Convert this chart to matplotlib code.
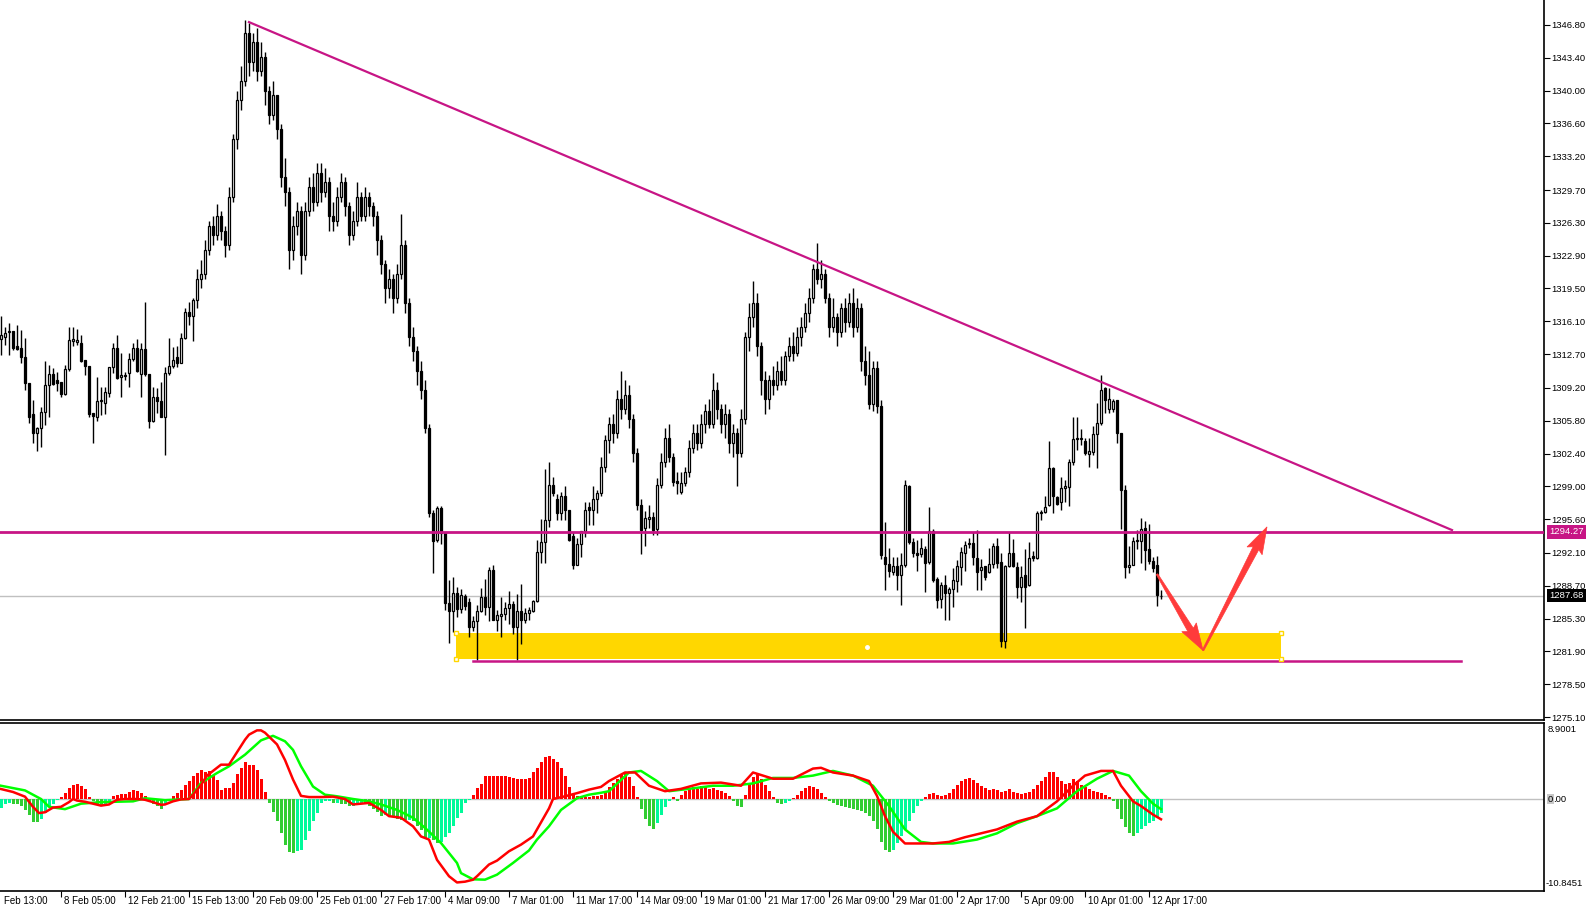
import matplotlib
matplotlib.use("Agg")
import matplotlib.pyplot as plt
from matplotlib.patches import Rectangle, Polygon
from matplotlib.transforms import blended_transform_factory
import numpy as np

plt.rcParams['font.family'] = ['Liberation Sans', 'DejaVu Sans']

# ---------------- data (XAUUSD H4) ----------------
opens = [
1314.3,1314.5,1315.0,1315.1,1313.5,1313.3,1312.4,1309.7,1306.5,1304.5,
1305.0,1306.7,1309.5,1310.6,1310.0,1309.8,1308.6,1311.2,1314.1,1314.0,
1313.9,1312.1,1311.5,1306.6,1306.2,1307.8,1307.6,1308.7,1311.4,1313.3,
1310.3,1310.5,1310.7,1312.2,1313.3,1310.6,1313.2,1310.6,1305.8,1308.3,
1307.8,1306.2,1310.7,1311.5,1312.4,1311.8,1314.4,1317.1,1316.7,1318.3,
1320.5,1321.0,1323.5,1326.0,1325.0,1327.0,1325.5,1324.0,1329.0,1335.0,
1339.0,1341.0,1346.0,1343.0,1345.0,1342.0,1343.5,1340.0,1337.5,1339.5,
1336.0,1331.0,1329.5,1323.5,1326.0,1327.5,1323.0,1327.5,1330.0,1328.5,
1331.5,1329.5,1330.5,1327.0,1326.5,1329.0,1330.5,1328.0,1325.0,1326.5,
1329.0,1327.0,1329.0,1328.0,1327.0,1324.5,1322.0,1319.5,1320.5,1318.5,
1321.0,1324.0,1318.0,1314.5,1313.0,1311.0,1309.0,1305.0,1296.2,1293.4,
1296.8,1294.2,1286.9,1286.1,1287.9,1286.3,1287.6,1287.0,1284.4,1285.0,
1286.1,1287.5,1286.5,1290.3,1285.2,1285.6,1285.8,1286.4,1286.8,1284.4,
1286.1,1285.2,1285.9,1286.1,1287.1,1292.2,1293.2,1295.5,1299.1,1297.7,
1296.2,1298.0,1296.6,1293.9,1290.9,1293.0,1294.4,1296.9,1296.6,1297.7,
1298.3,1301.0,1303.8,1305.5,1304.5,1308.0,1307.0,1308.5,1306.0,1302.5,
1297.1,1294.7,1295.6,1295.8,1294.6,1299.1,1301.5,1304.0,1302.0,1299.6,
1298.4,1299.3,1300.5,1303.0,1304.5,1303.5,1305.5,1306.8,1305.5,1309.0,
1307.0,1305.5,1306.5,1303.5,1304.5,1302.5,1306.0,1314.5,1316.5,1318.0,
1313.5,1310.0,1308.0,1310.0,1309.5,1311.0,1310.0,1312.5,1313.5,1312.8,
1314.5,1315.5,1317.0,1318.5,1321.5,1320.5,1321.0,1318.5,1315.5,1316.5,
1315.0,1317.5,1316.0,1318.0,1315.5,1317.5,1312.0,1310.5,1307.5,1311.3,
1307.3,1291.7,1291.0,1290.1,1290.7,1289.8,1290.9,1299.0,1293.2,1292.1,
1292.0,1292.5,1291.2,1294.4,1289.4,1287.3,1288.8,1288.0,1288.4,1289.2,
1290.6,1292.1,1293.0,1293.1,1291.6,1290.3,1290.7,1290.1,1291.0,1292.8,
1291.2,1283.0,1290.7,1292.1,1290.6,1288.6,1289.8,1288.8,1291.8,1291.6,
1296.2,1296.3,1297.1,1300.9,1297.9,1297.4,1298.8,1298.9,1301.5,1304.0,
1303.9,1303.7,1302.4,1302.6,1304.4,1305.6,1309.2,1307.0,1307.0,1307.9,
1304.5,1298.6,1290.6,1290.9,1293.3,1293.3,1294.7,1292.5,1291.3,1290.9,1287.6]
highs = [
1316.7,1315.5,1315.9,1315.1,1315.7,1315.2,1314.4,1309.7,1307.9,1305.1,
1307.2,1312.0,1311.6,1311.3,1310.8,1309.8,1311.6,1315.5,1315.5,1315.3,
1314.7,1312.1,1311.5,1306.6,1310.3,1309.3,1309.3,1311.4,1313.8,1314.7,
1312.8,1310.8,1312.8,1313.8,1314.3,1313.8,1318.1,1310.6,1309.3,1309.2,
1309.8,1311.4,1314.4,1313.4,1313.5,1314.9,1317.5,1318.1,1318.5,1321.5,
1322.5,1324.5,1326.5,1327.0,1328.3,1327.5,1326.0,1330.0,1335.5,1340.0,
1342.5,1347.3,1347.0,1346.0,1346.5,1345.0,1344.0,1340.5,1341.0,1339.5,
1336.5,1333.0,1330.0,1327.0,1328.5,1328.0,1328.5,1331.0,1331.5,1332.5,
1332.5,1332.0,1331.0,1328.5,1330.0,1331.5,1331.0,1328.5,1327.5,1330.5,
1329.5,1330.0,1329.5,1328.5,1327.5,1325.0,1322.5,1321.5,1321.0,1322.0,
1327.2,1324.5,1318.5,1315.5,1313.5,1312.0,1310.0,1305.5,1296.6,1297.0,
1297.0,1294.2,1289.3,1289.6,1288.6,1288.4,1287.8,1287.4,1285.6,1286.7,
1288.5,1289.4,1290.6,1290.9,1286.2,1287.5,1287.0,1288.2,1287.1,1287.8,
1288.9,1286.4,1286.5,1287.2,1293.4,1295.6,1300.8,1301.5,1300.0,1298.2,
1298.4,1299.0,1296.6,1294.3,1293.6,1294.4,1297.4,1297.4,1299.0,1298.6,
1302.0,1304.3,1306.2,1306.5,1309.0,1311.0,1310.0,1309.5,1306.5,1303.0,
1297.7,1296.4,1297.1,1296.3,1299.9,1302.5,1305.0,1305.5,1302.5,1300.5,
1300.5,1301.0,1303.8,1305.5,1305.5,1306.5,1307.5,1308.0,1310.7,1309.8,
1307.5,1307.5,1307.0,1305.5,1305.0,1307.0,1315.0,1318.0,1320.3,1319.0,
1314.0,1311.0,1310.5,1311.5,1312.0,1312.5,1313.0,1314.5,1315.0,1315.5,
1316.5,1318.0,1319.5,1322.0,1324.2,1322.5,1321.5,1319.0,1318.5,1317.0,
1318.0,1318.5,1319.0,1319.5,1318.5,1318.0,1313.5,1313.0,1312.0,1312.0,
1307.9,1295.3,1292.6,1291.7,1291.7,1292.1,1299.7,1299.1,1293.6,1293.4,
1293.6,1292.8,1296.9,1294.6,1289.6,1289.1,1289.8,1288.6,1290.5,1291.4,
1292.7,1293.3,1293.6,1294.3,1294.5,1291.5,1290.7,1292.6,1293.1,1293.6,
1292.1,1290.9,1294.3,1293.5,1291.2,1290.7,1292.5,1293.2,1292.3,1296.4,
1296.5,1298.0,1303.7,1301.0,1298.0,1300.0,1299.7,1301.8,1306.2,1306.2,
1304.9,1304.0,1304.0,1305.2,1307.6,1310.5,1309.3,1309.2,1308.1,1307.9,
1304.5,1299.1,1292.8,1293.8,1294.5,1295.7,1295.4,1295.1,1291.7,1291.8,1288.3]
lows = [
1312.6,1313.6,1312.6,1313.1,1313.1,1311.8,1309.0,1305.6,1303.5,1302.7,
1303.1,1305.4,1306.2,1309.5,1308.9,1308.3,1308.5,1311.0,1313.5,1313.6,
1311.9,1310.5,1306.2,1303.5,1305.8,1306.4,1306.5,1308.3,1310.7,1310.1,
1308.3,1310.0,1309.3,1312.0,1310.8,1308.3,1310.4,1305.0,1305.7,1306.6,
1306.2,1302.2,1310.5,1311.3,1311.4,1311.8,1314.3,1315.7,1314.1,1317.5,
1319.5,1320.5,1323.0,1324.0,1324.5,1324.5,1322.8,1323.5,1328.5,1334.0,
1338.0,1340.5,1341.5,1342.0,1341.0,1341.5,1338.5,1336.5,1337.0,1335.0,
1330.0,1328.0,1321.5,1322.5,1325.0,1321.0,1322.5,1327.0,1327.5,1328.0,
1328.5,1329.0,1325.5,1325.5,1326.0,1328.5,1327.0,1324.0,1324.5,1326.0,
1326.5,1326.5,1327.0,1326.0,1323.0,1321.0,1318.0,1318.5,1317.0,1318.0,
1320.5,1317.0,1313.5,1312.0,1309.5,1308.0,1304.5,1295.8,1290.0,1293.2,
1293.0,1286.2,1282.8,1283.9,1285.5,1285.9,1286.2,1283.4,1284.0,1281.0,
1286.0,1285.7,1285.0,1285.1,1284.0,1283.4,1285.1,1284.7,1283.7,1281.0,
1282.7,1284.8,1285.2,1286.0,1287.0,1291.1,1291.1,1294.8,1298.0,1295.5,
1295.5,1295.5,1293.3,1290.4,1290.9,1291.7,1293.8,1295.0,1295.0,1296.2,
1298.0,1300.5,1302.5,1303.5,1304.0,1306.0,1306.5,1305.0,1301.5,1296.5,
1292.0,1292.8,1294.7,1294.0,1294.0,1298.8,1301.0,1301.5,1299.0,1298.2,
1298.2,1299.0,1300.0,1302.5,1302.8,1303.0,1304.5,1305.0,1305.0,1306.0,
1304.5,1304.0,1302.5,1302.0,1299.0,1302.0,1305.5,1313.0,1315.5,1312.5,
1308.5,1306.5,1307.0,1308.5,1309.0,1309.5,1309.5,1312.0,1312.0,1312.5,
1313.5,1315.0,1316.0,1318.0,1320.0,1319.5,1318.0,1314.5,1315.0,1313.5,
1314.5,1315.0,1315.5,1314.5,1315.0,1311.0,1309.5,1307.0,1306.8,1306.6,
1291.5,1288.3,1289.6,1289.8,1288.3,1286.7,1290.6,1293.0,1291.7,1290.2,
1291.7,1288.1,1291.0,1289.1,1286.4,1286.4,1285.2,1285.2,1286.5,1288.1,
1288.8,1290.2,1292.6,1290.9,1288.3,1288.3,1289.3,1290.0,1290.5,1290.5,
1282.4,1282.3,1290.6,1290.6,1287.4,1287.0,1284.3,1288.7,1291.3,1291.5,
1295.5,1296.2,1297.0,1296.2,1297.1,1296.5,1297.4,1297.0,1301.2,1302.8,
1303.3,1302.2,1301.0,1302.2,1300.9,1305.4,1306.6,1306.6,1306.7,1303.5,
1294.6,1289.5,1290.0,1290.8,1292.5,1291.1,1290.3,1291.0,1290.1,1286.6,1287.3]
closes = [
1314.7,1314.9,1315.1,1313.3,1313.2,1312.4,1309.7,1306.2,1304.5,1305.0,
1306.7,1309.5,1310.6,1309.6,1309.7,1308.6,1311.2,1314.2,1314.3,1314.2,
1312.0,1311.5,1306.5,1306.3,1307.8,1307.9,1308.8,1311.4,1313.3,1310.2,
1310.5,1310.4,1312.2,1313.3,1311.0,1313.2,1310.6,1305.8,1308.3,1307.8,
1306.2,1310.7,1311.5,1312.1,1311.8,1314.4,1317.1,1316.7,1318.3,1320.5,
1321.0,1323.5,1326.0,1325.0,1327.0,1325.5,1324.0,1329.0,1335.0,1339.0,
1341.0,1346.0,1343.0,1345.0,1342.0,1343.5,1340.0,1337.5,1339.5,1336.0,
1331.0,1329.5,1323.5,1326.0,1327.5,1323.0,1327.5,1330.0,1328.5,1331.5,
1329.5,1330.5,1327.0,1326.5,1329.0,1330.5,1328.0,1325.0,1326.5,1329.0,
1327.0,1329.0,1328.0,1327.0,1324.5,1322.0,1319.5,1320.5,1318.5,1321.0,
1324.0,1318.0,1314.5,1313.0,1311.0,1309.0,1305.0,1296.2,1293.3,1296.8,
1294.2,1286.9,1286.1,1287.9,1286.3,1287.7,1286.6,1284.4,1285.0,1286.1,
1287.5,1286.5,1290.3,1285.2,1285.7,1285.8,1286.4,1286.8,1284.4,1286.1,
1285.2,1285.9,1286.2,1287.1,1292.2,1293.2,1295.5,1299.1,1298.3,1296.2,
1298.0,1296.6,1293.4,1290.9,1293.0,1294.4,1296.6,1296.6,1297.7,1298.3,
1301.0,1303.8,1305.5,1304.5,1308.0,1307.0,1308.5,1306.0,1302.5,1297.1,
1294.5,1295.7,1295.8,1294.5,1299.1,1301.5,1304.0,1302.0,1299.5,1299.3,
1299.3,1300.5,1303.0,1304.5,1303.5,1305.5,1306.8,1305.5,1309.0,1307.0,
1305.5,1306.5,1303.5,1304.5,1302.5,1306.0,1314.5,1316.5,1318.0,1313.5,
1310.0,1308.0,1310.0,1309.5,1311.0,1310.0,1312.5,1313.5,1312.8,1314.5,
1315.5,1317.0,1318.5,1321.5,1320.5,1321.0,1318.5,1315.5,1316.5,1315.0,
1317.5,1316.0,1318.0,1315.5,1317.5,1312.0,1310.5,1307.5,1311.3,1307.3,
1291.9,1291.0,1290.2,1290.7,1289.8,1290.9,1299.1,1293.2,1292.1,1291.9,
1292.6,1291.1,1294.4,1289.3,1287.2,1288.8,1287.9,1288.4,1289.3,1290.7,
1292.2,1292.9,1293.1,1291.7,1290.1,1290.6,1289.6,1291.0,1292.8,1291.1,
1283.0,1290.7,1292.1,1290.7,1288.6,1289.6,1288.6,1291.6,1291.6,1296.2,
1296.3,1296.9,1300.9,1298.0,1297.2,1298.8,1299.0,1301.5,1303.9,1303.9,
1304.0,1302.5,1302.7,1304.4,1305.6,1309.0,1307.9,1308.0,1307.8,1304.5,
1298.6,1290.6,1290.9,1293.3,1293.4,1294.6,1292.4,1291.3,1290.5,1287.7,1287.68]

# MACD histogram (one value per bar)
macd_hist = [
-1.15,-0.6,-0.5,-0.6,-0.7,-0.85,-1.4,-2.0,-2.9,-3.0,
-2.6,-1.8,-1.0,-0.6,-0.1,0.2,0.8,1.4,1.85,1.9,
1.7,1.3,0.25,-0.3,-0.7,-0.95,-0.85,-0.3,0.35,0.55,
0.65,0.65,0.85,1.1,1.0,0.75,0.35,-0.3,-0.6,-0.85,
-1.3,-0.6,-0.1,0.35,0.75,1.2,1.85,2.25,2.9,3.35,
3.7,3.4,3.55,3.1,2.5,1.2,1.4,1.4,2.05,3.25,
4.0,4.8,4.4,4.3,3.75,2.6,0.85,-0.5,-1.7,-2.85,
-4.35,-5.85,-6.85,-6.9,-6.7,-6.5,-5.3,-4.15,-2.85,-1.8,
-0.5,-0.3,-0.3,-0.5,-0.45,-0.6,-0.7,-0.95,-0.85,-0.6,
-0.45,-0.5,-0.85,-1.3,-1.7,-2.15,-2.0,-2.15,-2.3,-2.55,
-2.65,-2.75,-2.65,-2.85,-3.4,-3.95,-5.1,-5.0,-5.2,-5.65,
-5.55,-4.85,-4.35,-3.4,-2.45,-1.8,-0.5,-0.1,0.55,1.4,
1.95,3.0,3.0,2.9,2.9,2.9,2.9,2.8,2.75,2.6,
2.55,2.6,2.7,3.4,4.0,4.8,5.4,5.45,5.1,4.7,
4.0,3.0,1.55,0.7,0.35,0.25,0.25,0.3,0.35,0.4,
0.5,1.0,1.55,2.1,2.6,3.1,3.4,2.85,1.7,0.25,
-1.3,-2.6,-3.5,-3.9,-3.1,-2.1,-1.05,-0.25,0.25,-0.25,
0.5,1.05,1.45,1.55,1.3,1.7,1.55,1.3,1.45,1.15,
1.05,0.8,0.4,-0.25,-0.9,-1.05,0.5,2.1,2.85,3.25,
2.6,1.8,1.05,0.25,-0.5,-0.65,-0.5,-0.25,0.15,0.5,
1.05,1.45,1.7,1.55,1.3,0.8,0.25,-0.25,-0.5,-0.8,
-0.9,-1.05,-1.15,-1.3,-1.45,-1.55,-1.8,-2.2,-2.85,-3.9,
-5.45,-6.5,-6.75,-6.5,-5.7,-4.8,-3.9,-2.85,-1.8,-0.9,
-0.25,0.25,0.65,0.8,0.5,0.4,0.5,0.8,1.3,1.8,
2.35,2.6,2.75,2.45,2.1,1.7,1.45,1.15,1.3,1.15,
0.9,1.05,1.3,0.9,0.8,0.65,0.8,0.9,1.3,1.8,
2.35,2.85,3.4,3.4,2.85,2.35,1.95,2.1,2.6,2.35,
1.8,1.55,1.3,1.05,0.9,0.8,0.5,0.25,-0.25,-1.3,
-2.6,-3.65,-4.4,-4.8,-4.4,-3.9,-3.4,-3.1,-2.85,-2.35,-1.8]

# MACD main line (red): bar index, value
macd_x = [0,3,6,8,9.5,11,13,15,17,18,19,21,23,25,27,29,31,34,36,38,40,41,43,45,47,48,50,51.5,53,54,55,57,59,60,61,62,64,65,66,67,69,71,73,75,77,80,83,86,88,90,92,95,97,100,103,105,107,109,112,114,116,118,119,122,124,127,130,133,135,137,138,141,144,147,150,
152,156,158.5,162,166,170,175,180,185,188,193,198,203,205,208,213,217,219,221,223,226,230,233,237,241,245,249,251,254,259,264,268,271,275,278,280,283,285,288,290]
macd_v = [1.28,0.9,0.3,-1.0,-1.8,-1.7,-1.1,-1.0,-0.4,0.0,-0.2,-0.35,-0.6,-0.85,-0.7,-0.1,0.0,0.0,-0.1,-0.4,-0.75,-0.7,-0.3,-0.05,0.0,0.55,1.8,3.0,3.6,4.0,4.4,4.4,6.0,6.8,7.6,8.25,8.8,8.8,8.5,8.0,7.0,5.0,2.5,0.4,0.25,0.25,0.3,0.0,-0.7,-0.6,-0.5,-1.4,-2.2,-2.4,-3.5,-4.8,-5.2,-7.8,-9.9,-10.7,-10.6,-10.35,-9.9,-8.4,-7.9,-6.7,-5.85,-4.8,-3.0,-1.2,0.0,0.35,0.75,1.2,1.55,
2.3,3.4,3.4,1.7,1.0,1.3,2.0,2.1,1.7,3.4,2.6,2.6,3.9,4.0,3.4,3.0,2.3,0.4,-2.2,-4.2,-5.7,-5.7,-5.7,-5.5,-4.9,-4.4,-3.9,-3.5,-2.9,-2.2,-0.3,1.7,3.0,3.6,3.6,1.7,-0.3,-0.9,-2.0,-2.6]

# signal line (green): bar index, value
sig_x = [0,6,10,12,16,20,25,33,36,41,47,50,54,57,61,65,68,71,73,75,78,81,84,88,92,95,99,103,106,110,114,115,118,121,124,128,132,134,137,140,144,147,150,
152,157,160,164,167,172,178,183,188,193,198,203,208,213,218,222,226,230,233,238,244,249,254,259,264,269,274,278,282,285,288,290]
sig_v = [1.7,1.1,0.0,-1.0,-1.3,-0.6,-0.4,-0.3,0.1,-0.15,0.0,2.05,3.33,4.19,5.68,7.52,8.1,7.4,6.3,4.2,1.6,0.55,0.35,0.0,-0.3,-0.7,-1.4,-2.4,-3.7,-5.64,-8.2,-9.5,-10.3,-10.34,-9.7,-8.2,-6.6,-5.2,-3.5,-1.4,0.1,0.55,0.8,
1.0,3.4,3.6,2.3,1.0,1.3,1.7,1.7,2.0,2.7,2.7,3.0,3.6,3.0,1.7,-0.9,-3.9,-5.5,-5.7,-5.7,-5.2,-4.4,-3.1,-2.2,-1.2,1.0,2.6,3.6,3.0,1.0,-0.6,-1.3]

price_ticks = [1346.80,1343.40,1340.00,1336.60,1333.20,1329.70,1326.30,1322.90,1319.50,
               1316.10,1312.70,1309.20,1305.80,1302.40,1299.00,1295.60,1292.10,1288.70,
               1285.30,1281.90,1278.50,1275.10]
time_labels = ["8 Feb 05:00","12 Feb 21:00","15 Feb 13:00","20 Feb 09:00","25 Feb 01:00",
               "27 Feb 17:00","4 Mar 09:00","7 Mar 01:00","11 Mar 17:00","14 Mar 09:00",
               "19 Mar 01:00","21 Mar 17:00","26 Mar 09:00","29 Mar 01:00","2 Apr 17:00",
               "5 Apr 09:00","10 Apr 01:00","12 Apr 17:00"]
time_label_bars = [15 + 16 * j for j in range(len(time_labels))]

# drawn objects (bar index, price)
trend_start = (62.0, 1347.1)
trend_end = (362.75, 1294.47)
resistance_level = 1294.27
support_level = 1280.9
support_span = (118.0, 365.0)
zone_span = (113.75, 320.0)
zone_prices = (1281.1, 1283.8)
arrow1 = ((289.0, 1289.9), (300.5, 1282.0))
arrow2 = ((300.5, 1282.0), (316.5, 1294.8))

# ---------------- figure ----------------
W, H = 1591, 910
fig = plt.figure(figsize=(W / 100, H / 100), dpi=100)
fig.patch.set_facecolor('white')

def frac(l, t, r, b):
    return [l / W, 1 - b / H, (r - l) / W, (b - t) / H]

ax = fig.add_axes(frac(0, 0, 1544, 720))
ax2 = fig.add_axes(frac(0, 723, 1544, 891))

XL = (-0.25, 385.75)
MAG = '#C71585'
FS = 6.8
FSX = 7.0

n = len(closes)
assert len(opens) == n and len(highs) == n and len(lows) == n and len(macd_hist) == n
x = np.arange(n)
o = np.array(opens); c = np.array(closes)
hi = np.array(highs); lo = np.array(lows)
up = c >= o

# zone
ax.add_patch(Rectangle((zone_span[0], zone_prices[0]), zone_span[1] - zone_span[0],
                       zone_prices[1] - zone_prices[0], facecolor='#FFD700',
                       edgecolor='none', zorder=1))
for xx in zone_span:
    for yy in zone_prices:
        ax.plot([xx], [yy], marker='s', ms=3.5, mfc='white', mec='#FFD700', mew=1, zorder=6)
ax.plot([(zone_span[0] + zone_span[1]) / 2 - 0.5], [sum(zone_prices) / 2 - 0.1], marker='o',
        ms=2.5, mfc='white', mec='white', zorder=6)

# bid line
ax.axhline(closes[-1], color='#C0C0C0', lw=1, zorder=2)

# candles
ax.vlines(x, lo, hi, color='black', lw=1, zorder=3)
body = np.abs(c - o)
body = np.where(body < 0.08, 0.08, body)
ax.bar(x, body, bottom=np.minimum(o, c), width=0.5,
       color=np.where(up, 'white', 'black'), edgecolor='black', linewidth=0.9, zorder=4)

# resistance, support, trend
ax.axhline(resistance_level, color=MAG, lw=2, zorder=5)
ax.plot(list(support_span), [support_level, support_level], color=MAG, lw=1.8, zorder=5)
ax.plot([trend_start[0], trend_end[0]], [trend_start[1], trend_end[1]], color=MAG, lw=1.6, zorder=5)

ax.set_xlim(*XL)
ax.set_ylim(1274.79, 1349.39)

for spine in ['left', 'top']:
    ax.spines[spine].set_visible(False)
ax.spines['right'].set_linewidth(1.2)
ax.spines['bottom'].set_linewidth(1.2)
ax.set_xticks([])
ax.yaxis.tick_right()
ax.set_yticks(price_ticks)
ax.set_yticklabels([f"{v:.2f}" for v in price_ticks])
ax.tick_params(axis='y', length=4, width=0.8, pad=1.5, labelsize=FS, direction='out')

# arrows (built in screen space so they taper like the original)
def tapered_arrow(p0, p1, color):
    fig.canvas.draw()
    tr = ax.transData
    a = tr.transform(p0); b = tr.transform(p1)
    d = (b - a) / np.hypot(*(b - a))
    nrm = np.array([-d[1], d[0]])
    hl, hw, sw0, sw1 = 24, 8.5, 0.8, 3.2
    neck = b - d * hl
    pts = [a + nrm * sw0, neck + nrm * sw1, neck + nrm * hw - d * 3, b,
           neck - nrm * hw - d * 3, neck - nrm * sw1, a - nrm * sw0]
    pts = tr.inverted().transform(np.array(pts))
    ax.add_patch(Polygon(pts, closed=True, facecolor=color, edgecolor=color, lw=0.5, zorder=7))

tapered_arrow(*arrow1, '#FF3B3B')
tapered_arrow(*arrow2, '#FF3B3B')

bt = blended_transform_factory(ax.transAxes, ax.transData)
ax.text(1.0 + 5 / 1544, resistance_level, "1294.27", transform=bt, ha='left', va='center',
        fontsize=FS, color='white', clip_on=False, zorder=10,
        bbox=dict(boxstyle='square,pad=0.25', fc=MAG, ec='none'))
ax.text(1.0 + 5 / 1544, closes[-1], f"{closes[-1]:.2f}", transform=bt, ha='left', va='center',
        fontsize=FS, color='white', clip_on=False, zorder=10,
        bbox=dict(boxstyle='square,pad=0.25', fc='black', ec='none'))

# ---------------- MACD panel ----------------
h = np.array(macd_hist)
cols = []
for i, v in enumerate(h):
    if v >= 0:
        cols.append('#FF0000')
    else:
        prev = h[i - 1] if i > 0 else v
        cols.append('#32CD32' if v < prev else '#00FA9A')
ax2.axhline(0, color='#C0C0C0', lw=1, zorder=1)
ax2.bar(x, h, width=0.75, color=cols, edgecolor='none', zorder=2, antialiased=False)
ax2.plot(sig_x, sig_v, color='#00FF00', lw=1.8, zorder=3)
ax2.plot(macd_x, macd_v, color='#FF0000', lw=1.8, zorder=4)
ax2.set_xlim(*XL)
ax2.set_ylim(-11.795, 9.744)
ax2.spines['left'].set_visible(False)
for s in ['top', 'right', 'bottom']:
    ax2.spines[s].set_linewidth(1.2)
ax2.set_yticks([])
ax2.set_xticks(time_label_bars)
ax2.set_xticklabels([])
ax2.tick_params(axis='x', length=4, width=0.8, direction='out')

bt2 = blended_transform_factory(ax2.transAxes, ax2.transData)
ax2.text(1.0 + 4 / 1544, 8.9001, "8.9001", transform=bt2, ha='left', va='center',
         fontsize=FS, clip_on=False)
ax2.text(1.0 + 2 / 1544, -10.8451, "-10.8451", transform=bt2, ha='left', va='center',
         fontsize=FS, clip_on=False)
ax2.text(1.0 + 4 / 1544, 0, "0", transform=bt2, ha='left', va='center', fontsize=FS,
         clip_on=False, bbox=dict(boxstyle='square,pad=0.1', fc='#C8C8C8', ec='none'))
ax2.text(1.0 + 9.2 / 1544, 0, ".00", transform=bt2, ha='left', va='center', fontsize=FS,
         clip_on=False)

for k, lab in zip(time_label_bars, time_labels):
    ax2.annotate(lab, xy=(k, 0), xycoords=('data', 'axes fraction'), xytext=(2, -3.5),
                 textcoords='offset points', ha='left', va='top', fontsize=FSX,
                 annotation_clip=False)
ax2.annotate("Feb 13:00", xy=(XL[0], 0), xycoords=('data', 'axes fraction'), xytext=(3, -3.5),
             textcoords='offset points', ha='left', va='top', fontsize=FSX,
             annotation_clip=False)

fig.savefig('out.png', dpi=100, facecolor='white')
